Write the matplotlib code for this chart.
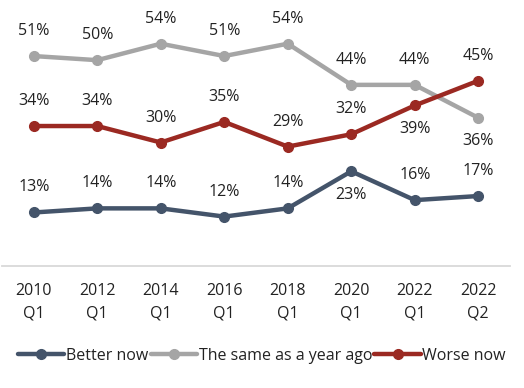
import matplotlib
matplotlib.use("Agg")
import matplotlib.pyplot as plt

categories = ["2010\nQ1", "2012\nQ1", "2014\nQ1", "2016\nQ1", "2018\nQ1", "2020\nQ1", "2022\nQ1", "2022\nQ2"]
better_now = [13, 14, 14, 12, 14, 23, 16, 17]
same_as_year_ago = [51, 50, 54, 51, 54, 44, 44, 36]
worse_now = [34, 34, 30, 35, 29, 32, 39, 45]

series = [
    ("Better now", better_now, "#44546A", {5}),
    ("The same as a year ago", same_as_year_ago, "#A5A5A5", {7}),
    ("Worse now", worse_now, "#9B2922", {6}),
]

plt.rcParams['font.family'] = ['Open Sans', 'DejaVu Sans']
FS = 11.5

W, H = 524, 388
fig = plt.figure(figsize=(W / 100, H / 100), dpi=100)
ax = fig.add_axes([2 / W, 1 - 266 / H, (510 - 2) / W, (266 - 19) / H])

x = list(range(len(categories)))
for name, vals, color, below in series:
    ax.plot(x, vals, color=color, lw=3.2, marker='o', ms=7, label=name,
            solid_capstyle='round', zorder=3)
    for i, v in enumerate(vals):
        if i in below:
            ax.annotate(f"{v}%", (i, v), xytext=(0, -17), textcoords='offset points',
                        ha='center', va='center', fontsize=FS, color='#222222')
        else:
            ax.annotate(f"{v}%", (i, v), xytext=(0, 18), textcoords='offset points',
                        ha='center', va='center', fontsize=FS, color='#222222')

ax.set_xlim(-0.5, len(categories) - 0.5)
ax.set_ylim(0, 60)
ax.set_yticks([])
ax.set_xticks(x)
ax.set_xticklabels(categories, fontsize=FS, color='#222222', linespacing=1.55)
ax.tick_params(axis='x', length=0, pad=12)
for s in ['top', 'right', 'left']:
    ax.spines[s].set_visible(False)
ax.spines['bottom'].set_color('#D9D9D9')
ax.spines['bottom'].set_linewidth(1.3)

leg = fig.legend(loc='center', bbox_to_anchor=(0.5, 1 - 356 / H), ncol=3, frameon=False,
                 fontsize=FS, handlelength=2.9, handletextpad=0.1, columnspacing=0.15,
                 labelcolor='#222222')

fig.savefig("out.png", dpi=100)
